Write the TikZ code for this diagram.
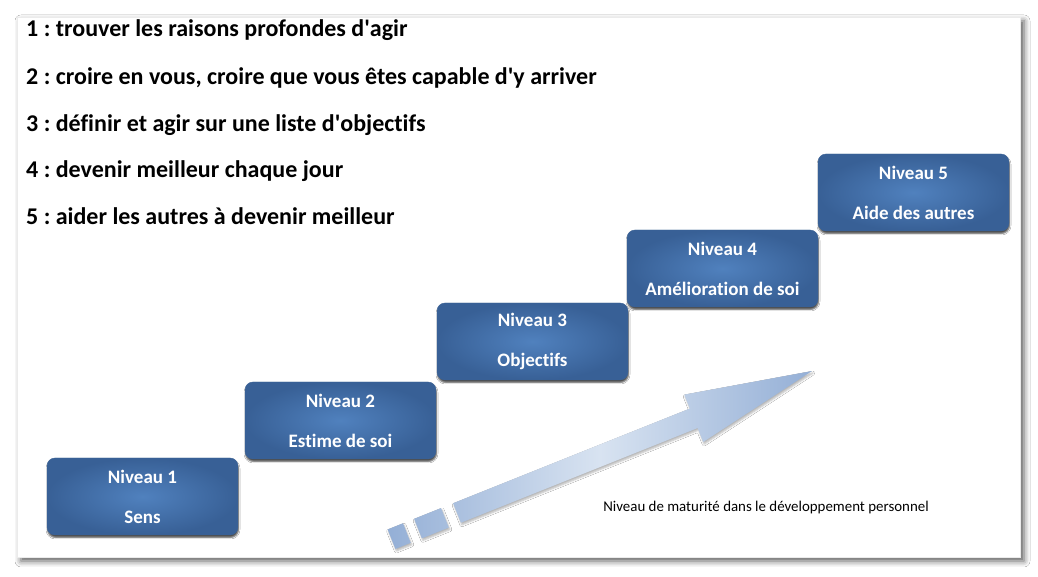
\documentclass[tikz,border=0pt]{standalone}
\usepackage{fontspec}
\setmainfont{Carlito}[Ligatures=NoCommon]
\usetikzlibrary{shadows.blur}
\definecolor{boxdark}{RGB}{56, 96, 150}
\definecolor{boxlight}{RGB}{80, 129, 190}
\definecolor{boxedge}{RGB}{62, 100, 150}
\definecolor{arrowdark}{RGB}{148, 175, 214}
\definecolor{arrowlight}{RGB}{216, 227, 241}
\tikzset{
	niveau/.style={draw=boxedge, rounded corners=8pt, inner color=boxlight, outer color=boxdark,
		minimum width=191pt, minimum height=77pt, text=white, align=center,
		font=\fontsize{19}{20}\selectfont\bfseries,
		blur shadow={shadow xshift=0.5pt, shadow yshift=-2.5pt, shadow blur radius=1.5pt, shadow opacity=70}},
	liste/.style={anchor=base west, inner sep=0pt, font=\fontsize{24}{28}\selectfont\bfseries},
}

\begin{document}
\frenchspacing
\begin{tikzpicture}[x=1pt, y=1pt]
			\useasboundingbox (0, 0) rectangle (1038, 577);
			\fill [white] (0, 0) rectangle (1038, 577);
			\filldraw [draw=black!8, fill=white, blur shadow={shadow xshift=4pt, shadow yshift=-4pt, shadow blur radius=6pt, shadow opacity=65}] (17, 20) rectangle (1020, 560);

			\node[liste] (l1) at (26, 540) {1 : trouver les raisons profondes d\textquotesingle agir};
			\node[liste] (l2) at (26, 492) {2 : croire en vous, croire que vous êtes capable d\textquotesingle y arriver};
			\node[liste] (l3) at (26, 445) {3 : définir et agir sur une liste d\textquotesingle objectifs};
			\node[liste] (l4) at (26, 399) {4 : devenir meilleur chaque jour};
			\node[liste] (l5) at (26, 352) {5 : aider les autres à devenir meilleur};

			\node[niveau] (n1) at (142.5, 80.5) {Niveau 1\\[20pt]Sens};
			\node[niveau] (n2) at (340.5, 156.5) {Niveau 2\\[20pt]Estime de soi};
			\node[niveau] (n3) at (532.5, 235.5) {Niveau 3\\[20pt]Objectifs};
			\node[niveau] (n4) at (722.5, 308.5) {Niveau 4\\[20pt]Amélioration de soi};
			\node[niveau] (n5) at (913.5, 384.5) {Niveau 5\\[20pt]Aide des autres};

			\begin{scope}[shift={(457, 64)}, rotate=21.8]
				\shade [left color=arrowdark, right color=arrowdark, middle color=arrowlight,
					blur shadow={shadow xshift=1pt, shadow yshift=-2pt, shadow blur radius=2pt, shadow opacity=30}]
					(-70.5, -10.5) rectangle (-54, 10.5)
					(-42, -10.5) rectangle (-13, 10.5)
					(0, -10.5) -- (255, -10.5) -- (255, -25.5) -- (382.3, 0) -- (255, 25.5) -- (255, 10.5) -- (0, 10.5) -- cycle;
			\end{scope}

			\node[font=\fontsize{14.9}{17}\selectfont] (maturite) at (766, 69) {Niveau de maturité dans le développement personnel};
		\end{tikzpicture}
\end{document}
